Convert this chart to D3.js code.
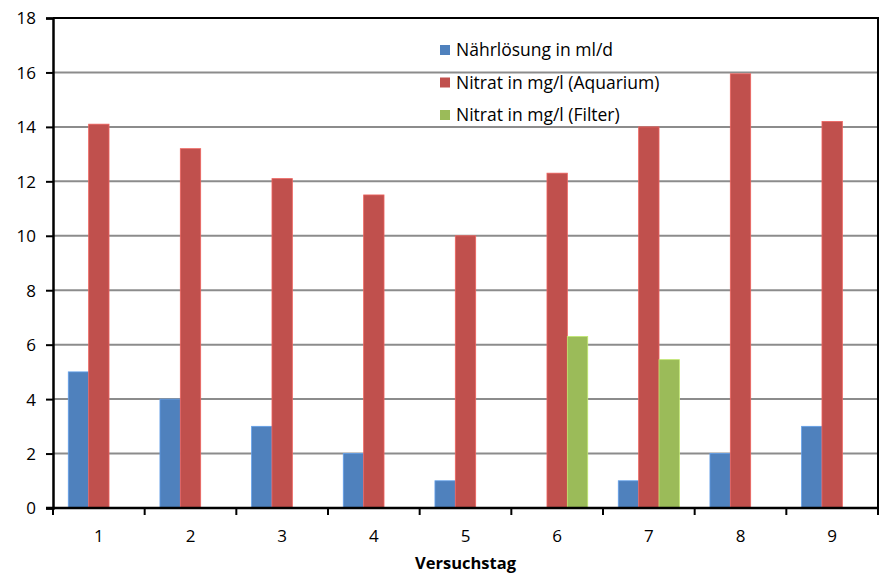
<!DOCTYPE html>
<html>
<head>
<meta charset="utf-8">
<script src="https://cdn.jsdelivr.net/npm/d3@7"></script>
<style>
  html, body { margin: 0; padding: 0; background: #fff; }
  svg text { font-family: "Open Sans", Lato, sans-serif; fill: #000; }
</style>
</head>
<body>
<svg id="chart" width="880" height="574"></svg>
<script>
// Versuchstage und Messreihen
const days = ["1", "2", "3", "4", "5", "6", "7", "8", "9"];
const seriesNames = ["Nährlösung in ml/d", "Nitrat in mg/l (Aquarium)", "Nitrat in mg/l (Filter)"];
const naehrloesung = [5, 4, 3, 2, 1, 0, 1, 2, 3];
const nitratAquarium = [14.1, 13.2, 12.1, 11.5, 10.0, 12.3, 14.0, 15.95, 14.2];
const nitratFilter = [0, 0, 0, 0, 0, 6.3, 5.45, 0, 0];
const yTicks = [0, 2, 4, 6, 8, 10, 12, 14, 16, 18];
const colors = ["#4F81BD", "#C0504D", "#9BBB59"];
const seriesValues = [naehrloesung, nitratAquarium, nitratFilter];

const svg = d3.select("#chart");
const m = { left: 53, right: 2, top: 18, bottom: 66 };
const W = 880, H = 574;
const x0 = m.left, x1 = W - m.right, yTop = m.top, yBot = H - m.bottom;

const x = d3.scaleBand().domain(days).range([x0, x1]).paddingInner(0).paddingOuter(0);
const y = d3.scaleLinear().domain([0, 18]).range([yBot, yTop]);

// Gap width 150 %: three bars plus 1.5 bar widths of space per category
const barW = x.bandwidth() / 4.5;
const xs = d3.scaleBand().domain(d3.range(3)).range([0, barW * 3]);

// Gitternetzlinien
svg.append("g").selectAll("line").data(yTicks.filter(t => t > 0 && t < 18)).join("line")
  .attr("x1", x0).attr("x2", x1)
  .attr("y1", d => y(d)).attr("y2", d => y(d))
  .attr("stroke", "#8c8c8c").attr("stroke-width", 2);

// Balken
const groups = svg.append("g").selectAll("g").data(days).join("g")
  .attr("transform", d => `translate(${x(d) + (x.bandwidth() - barW * 3) / 2},0)`);
groups.selectAll("rect")
  .data((d, i) => seriesValues.map((s, k) => ({ k, v: s[i] })).filter(e => e.v > 0))
  .join("rect")
  .attr("x", e => xs(e.k))
  .attr("width", xs.bandwidth())
  .attr("y", e => y(e.v))
  .attr("height", e => y(0) - y(e.v))
  .attr("fill", e => colors[e.k])
  .attr("stroke", e => d3.color(colors[e.k]).brighter(0.6))
  .attr("stroke-width", 0.8);

// Rahmen oben und rechts
svg.append("path")
  .attr("d", `M${x0},${yTop}H${x1}V${yBot}`)
  .attr("fill", "none").attr("stroke", "#000").attr("stroke-width", 2);

// y-Achse
const yAxis = d3.axisLeft(y).tickValues(yTicks).tickSize(7).tickPadding(10);
const gy = svg.append("g").attr("transform", `translate(${x0},0)`).call(yAxis);
gy.select(".domain").attr("stroke", "#000").attr("stroke-width", 2.5);
gy.selectAll(".tick line").attr("stroke", "#000").attr("stroke-width", 2);
gy.selectAll(".tick text").style("font-size", "17px").style("font-family", "\"Open Sans\", sans-serif").attr("dy", "0.35em");

// x-Achse mit Strichen an den Kategoriegrenzen
const gx = svg.append("g").attr("transform", `translate(0,${yBot})`);
gx.append("line").attr("x1", x0 - 7).attr("x2", x1)
  .attr("stroke", "#000").attr("stroke-width", 2.5);
const bounds = days.map(d => x(d)).concat([x1]);
gx.selectAll(".b").data(bounds).join("line").attr("class", "b")
  .attr("x1", d => d).attr("x2", d => d).attr("y1", 0).attr("y2", 7)
  .attr("stroke", "#000").attr("stroke-width", 2);
gx.selectAll("text").data(days).join("text")
  .attr("x", d => x(d) + x.bandwidth() / 2).attr("y", 34)
  .attr("text-anchor", "middle").style("font-size", "17px").text(d => d);

// Achsentitel
svg.append("text").attr("x", (x0 + x1) / 2).attr("y", 569)
  .attr("text-anchor", "middle").style("font-size", "16.5px").style("font-weight", "bold")
  .text("Versuchstag");

// Legende
const lg = svg.append("g").attr("transform", "translate(440,50)");
const items = lg.selectAll("g").data(seriesNames).join("g")
  .attr("transform", (d, i) => `translate(0,${i * 32.5})`);
items.append("rect").attr("x", 0).attr("y", -5).attr("width", 10).attr("height", 10)
  .attr("fill", (d, i) => colors[i]);
items.append("text").attr("x", 16).attr("y", 0).attr("dy", "0.35em")
  .style("font-size", "17.5px").text(d => d);
</script>
</body>
</html>
